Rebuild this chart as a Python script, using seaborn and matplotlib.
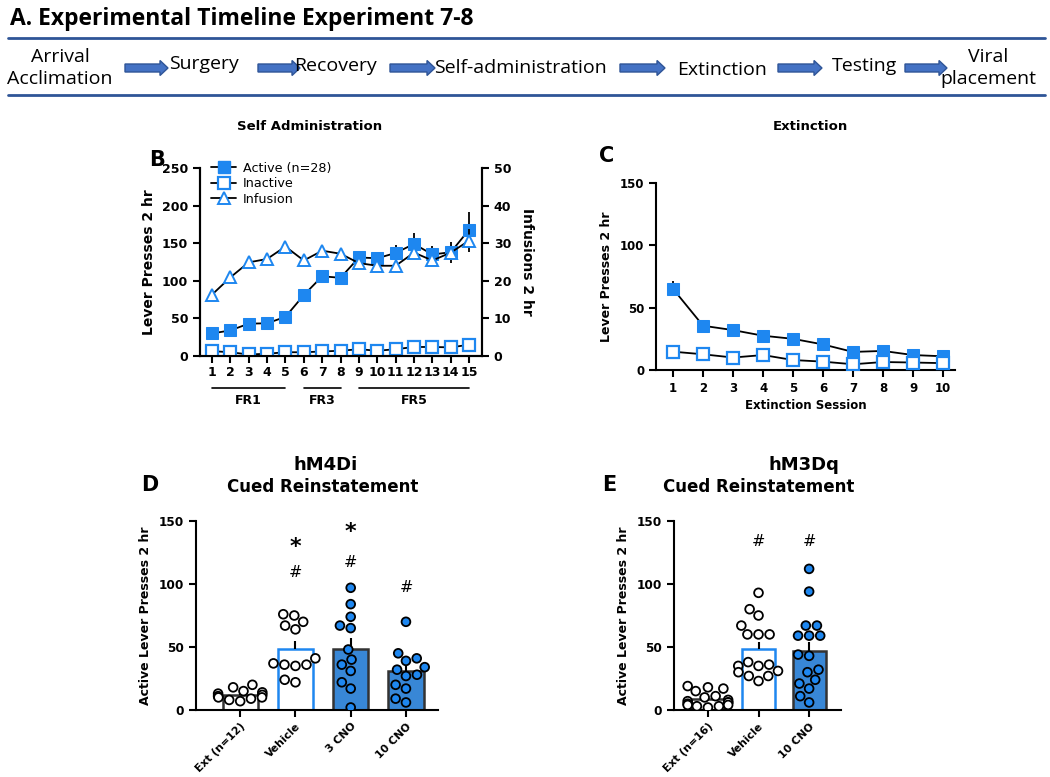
import numpy as np
import pandas as pd
import matplotlib.pyplot as plt
import seaborn as sns
from matplotlib.lines import Line2D
from matplotlib.patches import FancyArrow

# ---- data ----
timeline_steps = ["Arrival\nAcclimation", "Surgery", "Recovery", "Self-administration",
                  "Extinction", "Testing", "Viral\nplacement"]

sa_session = list(range(1, 16))
sa_active = [30, 34, 43, 43.5, 52, 81, 106, 104, 131, 130, 137, 149, 135, 138, 168]
sa_active_sem = [3, 3, 3, 3, 4, 5, 6, 7, 6, 8, 11, 14, 11, 14, 23]
sa_inactive = [6.5, 5, 2, 3, 5, 5, 6, 7, 9, 7, 9, 12, 12, 11.5, 15]
sa_infusion = [16.3, 20.9, 24.9, 25.8, 29.1, 25.4, 28, 27.2, 24.7, 24, 24, 27.5, 25.4, 27.5, 30.7]
sa_infusion_sem = [1.5, 1, 1, 1, 1.5, 1, 1, 1, 1, 1.5, 1.5, 1.5, 1.5, 1.5, 3]
fr_groups = [("FR1", 1, 5), ("FR3", 6, 8), ("FR5", 9, 15)]

ext_session = list(range(1, 11))
ext_active = [65, 35.5, 32, 27.5, 25, 20.5, 14.5, 15.3, 12, 11]
ext_active_sem = [6, 2, 2, 2, 2, 2, 1.5, 1.5, 1.5, 1.5]
ext_inactive = [14.7, 12.6, 10, 12, 8, 6.7, 4.6, 6.4, 6, 5.5]

d_groups = ["Ext (n=12)", "Vehicle", "3 CNO", "10 CNO"]
d_ext = [20, 18, 15, 14, 13, 12, 11, 10, 10, 9, 8, 7]
d_vehicle = [76, 75, 70, 67, 64, 41, 37, 36, 36, 35, 24, 22]
d_cno3 = [97, 84, 74, 67, 65, 48, 40, 36, 31, 22, 17, 2]
d_cno10 = [70, 45, 41, 39, 34, 32, 28, 27, 20, 17, 9, 6]
d_marks = {"Vehicle": [("*", 129), ("#", 109)], "3 CNO": [("*", 141), ("#", 117)],
           "10 CNO": [("#", 97)]}

e_groups = ["Ext (n=16)", "Vehicle", "10 CNO"]
e_ext = [19, 18, 17, 15, 11, 10, 8, 7, 6, 6, 5, 4, 4, 3, 3, 2]
e_vehicle = [93, 80, 75, 67, 60, 60, 60, 38, 36, 35, 35, 31, 30, 27, 27, 23]
e_cno10 = [112, 94, 67, 67, 59, 59, 59, 44, 43, 32, 30, 24, 21, 17, 11, 6]
e_marks = {"Vehicle": [("#", 134)], "10 CNO": [("#", 134)]}

BLUE = "#1E87F0"
NAVY = "#2F5597"
ARROW = "#4472C4"
W, H = 1050, 777
OFFICE = ["Open Sans", "DejaVu Sans"]

sns.set_theme(style="ticks")
plt.rcParams["font.family"] = ["DejaVu Sans"]
plt.rcParams.update({
    "text.color": "black", "axes.labelcolor": "black", "axes.edgecolor": "black",
    "xtick.color": "black", "ytick.color": "black",
    "axes.linewidth": 1.5, "xtick.major.width": 1.5, "ytick.major.width": 1.5,
    "xtick.major.size": 5, "ytick.major.size": 5,
})

fig = plt.figure(figsize=(W / 100, H / 100), dpi=100)


def box(l, t, r, b):
    return [l / W, 1 - b / H, (r - l) / W, (b - t) / H]


def ftext(x, y, s, **kw):
    fig.text(x / W, 1 - y / H, s, **kw)


def style_ticks(ax, size):
    for lab in ax.get_xticklabels() + ax.get_yticklabels():
        lab.set_fontweight("bold")
        lab.set_fontsize(size)


# ---- panel A: timeline ----
axA = fig.add_axes([0, 1 - 110 / H, 1, 110 / H])
axA.set_xlim(0, W)
axA.set_ylim(110, 0)
axA.axis("off")
ftext(10, 19, "A. Experimental Timeline Experiment 7-8", fontsize=16.5, fontweight="bold",
      family=OFFICE, va="center")
for yy in (38, 95):
    axA.plot([8, 1045], [yy, yy], color=NAVY, lw=2)
step_x = [60, 204, 335, 520, 722, 865, 988]
step_y = [68, 64, 66, 68, 70, 66, 68]
for s, x, y in zip(timeline_steps, step_x, step_y):
    axA.text(x, y, s, ha="center", va="center", fontsize=14, family=OFFICE, linespacing=1.35)
for x0, x1 in [(125, 168), (258, 300), (390, 435), (620, 665), (778, 822), (905, 947)]:
    axA.add_patch(FancyArrow(x0, 68, x1 - x0, 0, width=8, head_width=15, head_length=8,
                             length_includes_head=True, fc=ARROW, ec=NAVY, lw=1))

# ---- panel B: self administration ----
axB = fig.add_axes(box(200, 168, 482, 356))
axB2 = axB.twinx()
sa_df = pd.DataFrame({"session": sa_session, "active": sa_active, "inactive": sa_inactive,
                      "infusion": sa_infusion})
axB.errorbar(sa_session, sa_active, yerr=sa_active_sem, fmt="none", ecolor="black", elinewidth=1.3)
sns.lineplot(data=sa_df, x="session", y="active", color="black", lw=1.3, marker="s",
             markersize=8, markerfacecolor=BLUE, markeredgecolor=BLUE, ax=axB, zorder=3)
sns.lineplot(data=sa_df, x="session", y="inactive", color="black", lw=1.3, marker="s",
             markersize=8, markerfacecolor="white", markeredgecolor=BLUE, markeredgewidth=1.6,
             ax=axB, zorder=3)
axB2.errorbar(sa_session, sa_infusion, yerr=sa_infusion_sem, fmt="none", ecolor="black",
              elinewidth=1.3)
sns.lineplot(data=sa_df, x="session", y="infusion", color="black", lw=1.3, marker="^",
             markersize=9, markerfacecolor="white", markeredgecolor=BLUE, markeredgewidth=1.4,
             ax=axB2, zorder=3)
axB.set_xlim(0.35, 15.7)
axB.set_ylim(0, 250)
axB2.set_ylim(0, 50)
axB.set_xticks(sa_session)
axB.set_yticks(range(0, 251, 50))
axB2.set_yticks(range(0, 51, 10))
axB.set_xlabel("")
axB.set_ylabel("Lever Presses 2 hr", fontsize=10, fontweight="bold", labelpad=4)
axB2.set_ylabel("Infusions 2 hr", fontsize=10, fontweight="bold", rotation=270, labelpad=16)
axB.spines["top"].set_visible(False)
axB2.spines["top"].set_visible(False)
style_ticks(axB, 9)
style_ticks(axB2, 9)
axB.tick_params(axis="x", pad=2)
trans = axB.get_xaxis_transform()
for name, a, b in fr_groups:
    axB.plot([a, b], [-0.17, -0.17], color="black", lw=1.2, transform=trans, clip_on=False)
    axB.text((a + b) / 2, -0.235, name, transform=trans, ha="center", va="center",
             fontsize=9, fontweight="bold")
handles = [
    Line2D([], [], color="black", lw=1.3, marker="s", markersize=8, mfc=BLUE, mec=BLUE),
    Line2D([], [], color="black", lw=1.3, marker="s", markersize=8, mfc="white", mec=BLUE,
           mew=1.6),
    Line2D([], [], color="black", lw=1.3, marker="^", markersize=9, mfc="white", mec=BLUE,
           mew=1.4),
]
axB2.legend(handles, ["Active (n=28)", "Inactive", "Infusion"], loc="upper left",
            bbox_to_anchor=(0.02, 1.06), frameon=False, fontsize=9.2, handlelength=2,
            handletextpad=0.5, labelspacing=0.2, borderaxespad=0)
ftext(310, 127, "Self Administration", fontsize=9.5, fontweight="bold", ha="center", va="center")
ftext(157, 160, "B", fontsize=15, fontweight="bold", ha="center", va="center")

# ---- panel C: extinction ----
axC = fig.add_axes(box(656, 183, 955, 370))
ext_df = pd.DataFrame({"session": ext_session, "active": ext_active, "inactive": ext_inactive})
axC.errorbar(ext_session, ext_active, yerr=ext_active_sem, fmt="none", ecolor="black",
             elinewidth=1.3)
sns.lineplot(data=ext_df, x="session", y="active", color="black", lw=1.3, marker="s",
             markersize=8, markerfacecolor=BLUE, markeredgecolor=BLUE, ax=axC, zorder=3)
sns.lineplot(data=ext_df, x="session", y="inactive", color="black", lw=1.3, marker="s",
             markersize=8, markerfacecolor="white", markeredgecolor=BLUE, markeredgewidth=1.6,
             ax=axC, zorder=3)
axC.set_xlim(0.43, 10.4)
axC.set_ylim(0, 150)
axC.set_xticks(ext_session)
axC.set_yticks([0, 50, 100, 150])
axC.set_xlabel("Extinction Session", fontsize=8.5, fontweight="bold", labelpad=3)
axC.set_ylabel("Lever Presses 2 hr", fontsize=9, fontweight="bold", labelpad=5)
sns.despine(ax=axC)
style_ticks(axC, 8.5)
ftext(810, 127, "Extinction", fontsize=9.5, fontweight="bold", ha="center", va="center")
ftext(607, 156, "C", fontsize=15, fontweight="bold", ha="center", va="center")


# ---- bar + dot panels ----
def bar_panel(ax, groups, values, fills, edges, marks, width):
    df = pd.DataFrame({"group": np.repeat(groups, [len(v) for v in values]),
                       "value": np.concatenate(values)})
    sns.barplot(data=df, x="group", y="value", order=groups, hue="group",
                palette=dict(zip(groups, fills)), errorbar=None, width=width,
                legend=False, ax=ax, zorder=1)
    for p, ec in zip(ax.patches, edges):
        p.set_edgecolor(ec)
        p.set_linewidth(1.8)
    stats = df.groupby("group", sort=False)["value"].agg(["mean", "sem"])
    for i, g in enumerate(groups):
        ax.errorbar(i, stats.loc[g, "mean"], yerr=[[0], [stats.loc[g, "sem"]]], fmt="none",
                    ecolor="black", elinewidth=1.5, zorder=2)
    sns.swarmplot(data=df, x="group", y="value", order=groups, hue="group",
                  palette=dict(zip(groups, fills)), size=6.3, edgecolor="black", linewidth=1.3,
                  legend=False, ax=ax, zorder=4)
    for g, items in marks.items():
        i = groups.index(g)
        for sym, y in items:
            ax.text(i, y, sym, ha="center", va="center",
                    fontweight="bold" if sym == "*" else "normal",
                    fontsize=16 if sym == "*" else 11.5)
    ax.set_ylim(0, 150)
    ax.set_yticks([0, 50, 100, 150])
    ax.set_xlabel("")
    ax.set_ylabel("Active Lever Presses 2 hr", fontsize=9, fontweight="bold", labelpad=5)
    sns.despine(ax=ax)
    style_ticks(ax, 8.7)
    ax.tick_params(axis="x", pad=3)
    for lab in ax.get_xticklabels():
        lab.set_fontsize(7.8)
        lab.set_rotation(45)
        lab.set_ha("right")
        lab.set_rotation_mode("anchor")


axD = fig.add_axes(box(196, 521, 438, 710))
bar_panel(axD, d_groups, [d_ext, d_vehicle, d_cno3, d_cno10],
          ["white", "white", BLUE, BLUE], ["#333333", BLUE, "#333333", "#333333"], d_marks, 0.64)
axD.set_xlim(-0.8, 3.58)
ftext(326, 465, "hM4Di", fontsize=13, fontweight="bold", ha="center", va="center")
ftext(323, 487, "Cued Reinstatement", fontsize=12, fontweight="bold", ha="center", va="center")
ftext(150, 485, "D", fontsize=15, fontweight="bold", ha="center", va="center")

axE = fig.add_axes(box(674, 521, 841, 710))
bar_panel(axE, e_groups, [e_ext, e_vehicle, e_cno10],
          ["white", "white", BLUE], ["#333333", BLUE, "#333333"], e_marks, 0.65)
axE.set_xlim(-0.67, 2.63)
ftext(804, 465, "hM3Dq", fontsize=13, fontweight="bold", ha="center", va="center")
ftext(759, 487, "Cued Reinstatement", fontsize=12, fontweight="bold", ha="center", va="center")
ftext(609, 485, "E", fontsize=15, fontweight="bold", ha="center", va="center")

fig.savefig("out.png", dpi=100)
